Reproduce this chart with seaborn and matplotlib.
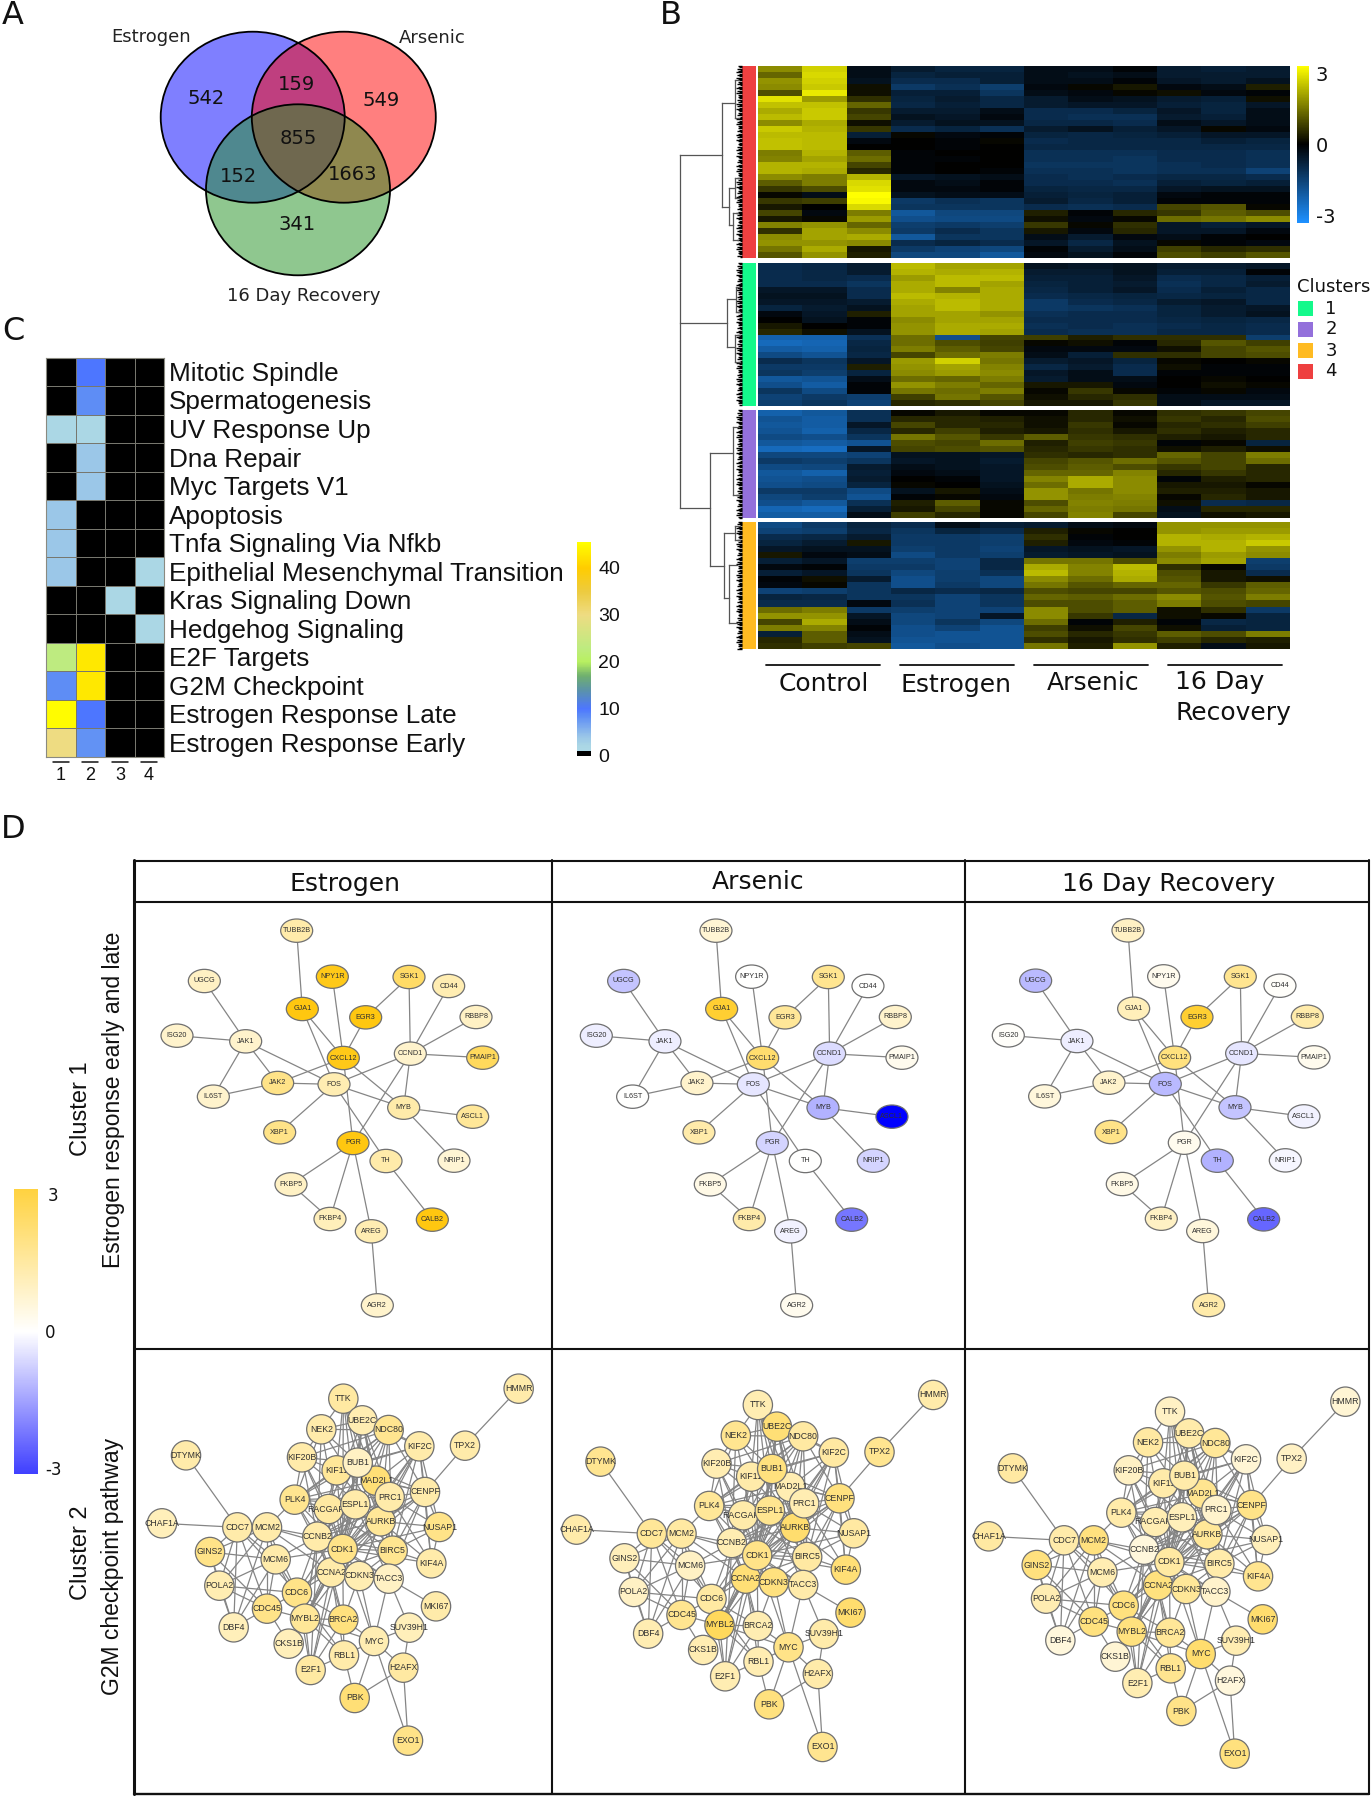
import numpy as np
import seaborn as sns
import matplotlib
matplotlib.use("Agg")
import matplotlib.pyplot as plt
from matplotlib.colors import LinearSegmentedColormap, Normalize
from matplotlib.cm import ScalarMappable
from matplotlib.patches import Ellipse, Rectangle

sns.set_theme(style="white")
plt.rcParams['font.family'] = ['DejaVu Sans']
W, H = 1372, 1800

# ---------- Panel A ----------
venn_names = ["Estrogen", "Arsenic", "16 Day Recovery"]
venn_counts = [542, 159, 549, 855, 152, 1663, 341]

# ---------- Panel B: heat map rows (Control x3, Estrogen x3, Arsenic x3, Recovery x3) ----------
cluster4 = [
 [1.8,2.7,-.3,-.6,-.8,-.8,-.3,-.3,-.1,-.6,-.7,-.6],
 [1.3,2.8,-.3,-.8,-.7,-.7,-.3,-.4,-.3,-.6,-.6,-.6],
 [1.9,2.7,-.4,-1.0,-1.0,-.7,-.3,-.3,-.1,-.5,-.6,-.4],
 [1.8,2.6,.2,-1.3,-1.1,-1.4,-.2,.1,.3,-.2,-.3,.4],
 [1.0,3.0,.2,-.7,-.7,-1.2,-.3,-.2,.1,.2,-.2,-.1],
 [2.9,2.0,.6,-.8,-.6,-.9,-.6,-.3,-.4,-.6,-.7,.2],
 [2.5,2.5,1.3,-.9,-.7,-.9,-.6,-.5,-.5,-.7,-.8,-.5],
 [2.2,2.6,.7,-.6,-.6,-.3,-1,-1,-.8,-.5,-.8,-.3],
 [2.4,2.6,.9,-.4,-.5,-.2,-1,-1.1,-1.1,-.6,-.7,-.3],
 [1.8,2.2,.2,-.6,-.4,-.4,-.9,-.9,-1.0,-.3,-.5,-.3],
 [2.6,2.3,.7,-1.0,-.8,-1.1,-.6,-.4,-.7,-.5,.1,-.2],
 [2.4,2.4,-.7,.1,-.2,-.1,-.8,-.9,-.8,-.7,-.5,-.5],
 [2.5,2.4,-.2,0,-.1,.1,-1,-.9,-.9,-.9,-.7,-.8],
 [2.5,2.4,0,0,-.1,0,-.9,-.9,-.9,-.9,-.9,-.9],
 [1.6,2.3,1.2,-.1,0,0,-1.1,-1.1,-1.1,-1,-1,-1.1],
 [1.7,2.1,1.4,-.1,-.1,0,-1.1,-1.1,-1.2,-1,-1,-1.1],
 [2.3,2.3,.9,-.1,0,0,-1.2,-1.2,-1.2,-1.1,-1,-1.1],
 [2.3,2.2,.5,-.1,0,-.1,-1.1,-1.1,-1.2,-1.1,-1.1,-1.5],
 [1.8,1.6,2.3,-.5,-.4,-.3,-1.0,-1.1,-1.0,-.9,-.9,-1],
 [1.2,1.6,2.8,-.2,-.3,-.1,-1,-1,-1.1,-.7,-.8,-.7],
 [.7,1.0,2.9,-.2,-.2,-.1,-.8,-.9,-.9,-.5,-.4,-.4],
 [.1,-.3,3.3,-.4,-.3,-.3,-.7,-.8,-.7,-.2,-.1,-.1],
 [.7,.8,3.2,-1.3,-1.1,-1.2,-.6,-.9,-.7,-.1,-.1,-.1],
 [.3,0,2.8,-1.2,-1.2,-1.2,-1.0,-1.1,-1.0,.9,1.1,.1],
 [.9,-.2,1.6,-2.0,-1.6,-1.6,.4,-.1,.5,.7,1.2,1.0],
 [.3,.1,2.0,-1.8,-1.7,-1.7,.2,-.2,.1,1.4,1.5,1.8],
 [1.7,1.9,1.3,-1.4,-1.3,-1.4,.7,.1,.6,-.5,-.7,-.5],
 [.6,2.1,1.8,-1.3,-1.0,-1.2,.3,-.2,.5,-.5,-.5,-.2],
 [1.8,2.1,2.2,-2.0,-1.2,-1.2,-.3,-.6,-.2,-.3,-.1,0],
 [1.9,1.9,1.8,-1.0,-.8,-1.0,-.5,-.9,-.4,.1,-.1,-.2],
 [1.5,2.2,.3,-1.3,-1.5,-1.6,-.1,-.6,-.3,.8,.5,.6],
 [1.1,1.9,.4,-1.6,-1.6,-2.0,-.2,-.4,-.1,1.0,.8,1.1],
]
cluster1 = [
 [-1,-.9,-.6,2.4,2.1,2.1,-.4,-.5,-.4,-.6,-.6,-.5],
 [-1,-.9,-.6,2.3,2.2,2.3,-.6,-.6,-.4,-.7,-.7,-.1],
 [-1,-.9,-1,2.0,2.4,2.4,-.7,-.7,-.5,-1,-.9,-.7],
 [-1,-1,-1.2,2.2,2.4,2.1,-.8,-.7,-.6,-1.1,-.9,-.6],
 [-.5,-.5,-1.0,2.2,1.7,2.2,-.9,-.7,-.5,-1,-.7,-.9],
 [-.4,-.4,-1.0,2.4,2.3,2.2,-1,-.9,-.8,-.9,-.8,-.9],
 [-.5,-.5,-.6,2.2,2.4,2.2,-1.3,-1.0,-.9,-.6,-.5,-.9],
 [-.8,-.6,-.4,2.1,2.4,2.2,-1.3,-1.2,-1.1,-.8,-.6,-.5],
 [-.2,-.5,.4,2.1,2.1,1.9,-1.1,-1.0,-1.0,-.8,-.6,-.4],
 [0,-.4,-.1,1.8,2.1,2.1,-1,-1,-1,-.9,-.8,-.9],
 [.3,0,-.1,1.9,2.2,2.2,-1.1,-1.0,-1.1,-1,-.9,-1],
 [.5,.2,-.4,1.9,2.2,2.1,-1,-1.1,-1.1,-.9,-.9,-1],
 [-2.2,-2.2,-1.1,1.4,-1.8,.9,.8,.4,.6,.6,.6,-1.4],
 [-2.4,-2.3,-.9,1.4,1.0,.8,.1,.2,-.1,.5,1.1,.8],
 [-2.1,-2.2,-.8,1.6,1.2,.9,-.2,-.2,-.2,.2,.9,1.1],
 [-1.7,-1.9,-.9,.9,1.4,1.6,-.3,-.7,.6,.6,.9,1.0],
 [-1.0,-1.2,-.5,2.0,2.7,1.5,-.6,-.5,-.8,.1,0,.1],
 [-1.3,-1.3,.4,1.9,2.1,1.7,-.9,-.6,-1,.2,-.1,-.1],
 [-1.2,-1.4,-.8,1.8,2.0,1.8,-.5,-.3,-1,-.1,-.1,-.1],
 [-2.0,-1.9,-.3,1.4,1.3,1.6,-.6,-.3,-.3,0,.1,0],
 [-1.8,-2.1,-.1,1.9,1.6,1.3,.3,.3,-.2,0,.2,.1],
 [-1.2,-1.7,-.1,1.5,1.4,1.6,.1,.7,.1,-.1,.1,-.2],
 [-1.5,-1.3,-1.4,.8,1.5,1.1,.2,.5,.6,-.3,-.3,-.3],
 [-1.4,-1.2,-1.5,.5,.6,.9,.3,.3,.7,-.3,-.5,-.5],
]
cluster2 = [
 [-2.2,-2.0,-1.1,.1,.3,.1,.1,.5,.1,.6,.7,.9],
 [-1.9,-2.1,-1.1,.5,.5,.4,.2,.5,.2,.7,.5,1.0],
 [-2.0,-2.1,-.5,.9,.5,.5,.2,.7,.1,.5,.6,.8],
 [-1.9,-2.2,-.9,.5,.8,.4,.3,.6,.3,.6,.4,.5],
 [-1.7,-1.8,-1.2,1.5,1.1,.7,1.2,.7,.6,.4,.3,.5],
 [-2.0,-2.1,-1.9,1.0,.9,1.4,.4,.8,.7,-.1,.1,-.8],
 [-2.4,-2.5,-.5,.9,1.0,1.1,.5,.7,.6,.2,.4,.2],
 [-1.6,-1.6,-1.5,-.4,-.4,-.5,.6,.5,.6,1.3,.9,1.6],
 [-1.3,-1.4,-1.2,-.5,-.4,-.6,.9,1.1,1.4,1.1,.9,1.4],
 [-1.7,-1.6,-.6,-.3,-.4,-.5,1.0,1.2,1.0,.7,.9,.5],
 [-2.0,-2.2,-.7,-.2,-.3,-.5,1.3,1.3,1.7,.5,.7,.5],
 [-1.9,-1.8,-.6,0,-.1,-.5,1.7,2.2,1.8,-.1,.4,.5],
 [-1.8,-1.7,-.8,.1,0,-.4,1.4,2.2,1.8,.3,.3,.1],
 [-1.3,-1.3,-1.7,-.4,.3,-.3,1.9,1.5,1.8,.4,.4,.3],
 [-1.6,-1.4,-1.9,-.1,.1,-.2,1.9,1.6,1.7,.1,.5,.3],
 [-1.8,-2.0,-1.1,.4,1.2,.1,1.0,1.7,1.6,.2,-1.0,-.9],
 [-2.3,-2.4,-.7,.3,.9,.1,1.3,1.6,1.5,-.3,.5,.5],
 [-2.1,-2.1,-.3,.8,.5,.1,.9,1.7,.9,-.4,.2,.3],
]
cluster3 = [
 [-1.7,-1.3,-.8,-1.0,-.3,-.7,-.6,-.3,-.2,1.9,1.9,1.9],
 [-1.5,-1.4,-.9,-1.2,-.8,-1.0,.4,.1,0,1.9,2.0,2.0],
 [-1,-.9,-.6,-1.3,-1.3,-1.4,.6,-.1,0,2.3,2.2,2.3],
 [-.8,-.6,.3,-1.3,-1.3,-1.4,.4,-.2,-.1,2.3,2.3,2.6],
 [-.5,-.4,-.4,-1.4,-1.3,-1.5,-.5,-.4,-.5,1.9,2.3,1.9],
 [.3,-.2,-.3,-1.7,-1.3,-1.4,-.6,-.5,-.4,1.6,2.0,1.8],
 [-.7,-.5,-1.4,-1.4,-1.5,-.9,1.5,1.5,1.0,1.8,2.1,-1.4],
 [-.2,-.1,-1.3,-1.3,-1.5,-.9,2.2,1.7,2.4,.6,.1,-1.3],
 [-.7,-.5,-1.2,-1.6,-1.4,-1.1,2.4,1.7,2.3,1.0,.3,-1.0],
 [-.1,.2,-.6,-1.8,-1.4,-1.6,1.8,1.4,2.2,1.1,.3,.2],
 [-.2,.1,-1.2,-1.8,-1.3,-1.6,1.5,1.1,1.3,1.3,.7,1.2],
 [-1.5,-1.4,-1.2,-.9,-1,-.9,1.0,.9,.9,1.1,1.0,1.3],
 [-.8,-.9,-1.2,-1.2,-1.5,-1.2,1.3,1.2,1.4,1.8,1.1,1.6],
 [-1.0,-1.0,-.2,-1.1,-1.5,-1.2,1.0,1.0,1.2,1.6,1.0,.9],
 [1.4,1.6,-1.3,-1.4,-1.5,-1.5,1.8,1.0,1.2,.2,.6,-1.3],
 [1.9,1.9,-.5,-1.6,-1.5,-.5,1.8,.7,-.9,.2,.1,-.8],
 [.9,2.2,-.3,-1.6,-1.2,-1.6,1.4,-.1,.4,-.1,-.9,-.8],
 [1.6,1.7,-.1,-1.8,-1.5,-1.9,.8,.2,.9,.2,-.7,-.8],
 [-.7,1.2,-.3,-1.8,-1.9,-1.9,1.0,.5,.7,1.2,1.0,1.6],
 [.5,1.2,-.4,-1.9,-1.9,-1.9,.6,.3,.6,.8,.5,.4],
 [.6,.8,.9,-2.0,-1.8,-1.9,1.5,.4,1.9,.4,-.3,.3],
]
group_labels = ["Control", "Estrogen", "Arsenic"]
cluster_ids = ["1", "2", "3", "4"]
cluster_colors = ["#14F98B", "#9370DB", "#FFBB22", "#EE4040"]

# ---------- Panel C ----------
pathways = ["Mitotic Spindle","Spermatogenesis","UV Response Up","Dna Repair","Myc Targets V1",
            "Apoptosis","Tnfa Signaling Via Nfkb","Epithelial Mesenchymal Transition",
            "Kras Signaling Down","Hedgehog Signaling","E2F Targets","G2M Checkpoint",
            "Estrogen Response Late","Estrogen Response Early"]
enrich = [[0,10,0,0],[0,8.5,0,0],[2,2,0,0],[0,4,0,0],[0,4,0,0],[4,0,0,0],[4,0,0,0],
          [4,0,0,2],[0,0,2,0],[0,0,0,2],[23,43,0,0],[8.5,43,0,0],[45,10,0,0],[30,8,0,0]]

# ---------- Panel D: networks ----------
net1_names = ["TUBB2B","NPY1R","SGK1","UGCG","CD44","GJA1","EGR3","RBBP8","ISG20","JAK1","CCND1",
              "CXCL12","PMAIP1","JAK2","FOS","IL6ST","MYB","ASCL1","XBP1","PGR","TH","NRIP1",
              "FKBP5","FKBP4","CALB2","AREG","AGR2"]
net1_x = [500,607,837,223,956,517,707,1038,141,347,841,640,1058,443,612,250,821,1028,449,669,768,972,483,600,907,724,742]
net1_y = [122,260,261,273,288,357,382,381,437,454,491,504,503,579,583,620,653,680,727,759,813,812,883,987,989,1024,1246]
net1_estrogen = [1.0,2.7,1.8,.7,.9,2.8,2.8,.7,.6,.6,.6,2.7,1.9,1.4,.9,.6,1.0,1.2,1.4,2.8,1.0,.5,.7,.8,2.8,.9,.6]
net1_arsenic = [.5,0,1.3,-.7,0,2.4,1.2,.6,-.2,-.2,-.4,1.7,.2,.6,-.3,0,-.9,-3,1.0,-.5,0,-.5,.3,1.0,-1.6,-.15,.2]
net1_recovery = [.7,.2,1.3,-.8,.05,.8,2.4,1.0,.05,-.2,-.3,1.5,.2,.6,-.8,.4,-.7,-.15,1.4,.2,-.9,-.1,.3,.7,-1.8,.4,1.0]
net1_edges = ["TUBB2B-GJA1","NPY1R-CXCL12","SGK1-EGR3","SGK1-CCND1","UGCG-JAK1","CD44-CCND1","GJA1-CXCL12",
              "GJA1-FOS","EGR3-CXCL12","RBBP8-CCND1","ISG20-JAK1","JAK1-IL6ST","JAK1-JAK2","JAK1-FOS",
              "CCND1-FOS","CCND1-PMAIP1","CCND1-MYB","CCND1-PGR","CXCL12-JAK2","CXCL12-MYB","CXCL12-PGR",
              "JAK2-FOS","JAK2-IL6ST","FOS-MYB","FOS-XBP1","FOS-TH","MYB-ASCL1","MYB-NRIP1","PGR-FKBP5",
              "PGR-FKBP4","PGR-AREG","FKBP5-FKBP4","TH-CALB2","AREG-AGR2"]

net2_names = ["TTK","HMMR","UBE2C","NEK2","NDC80","KIF2C","TPX2","DTYMK","KIF20B","KIF11","MAD2L1","BUB1",
              "CENPF","PLK4","RACGAP1","AURKB","ESPL1","PRC1","CDC7","CHAF1A","MCM2","NUSAP1","CCNB2",
              "CCNA2","CDK1","BIRC5","GINS2","MCM6","KIF4A","CDKN3","TACC3","POLA2","CDC6","MKI67","CDC45",
              "BRCA2","MYBL2","SUV39H1","DBF4","MYC","CKS1B","RBL1","H2AFX","E2F1","PBK","EXO1"]
net2_x = [640,1166,697,574,776,868,1005,168,516,620,738,683,885,494,596,752,676,779,322,96,411,928,562,
          604,638,788,240,437,904,688,776,268,501,918,411,640,525,838,311,732,476,642,820,542,674,834]
net2_y = [146,116,211,238,240,289,287,316,322,361,392,338,426,449,477,514,463,441,532,520,532,531,560,
          667,597,602,606,628,640,678,686,707,728,769,776,809,806,833,832,873,881,916,953,960,1044,1172]
net2_estrogen = [1.1,1.0,.9,1.0,1.3,1.0,1.0,1.0,1.0,1.2,1.6,.7,1.0,1.3,1.1,1.2,1.0,1.0,1.0,.8,1.0,1.4,1.0,
                 1.0,1.4,1.3,1.4,1.0,1.0,.9,.7,.9,1.4,1.0,1.4,1.5,1.2,.8,.8,.9,.8,1.0,1.1,1.1,1.6,1.4]
net2_arsenic = [.9,1.0,1.6,1.3,1.1,1.1,1.3,1.3,.9,1.0,.9,1.5,1.5,1.2,1.0,1.7,1.3,.9,1.2,1.0,1.1,1.1,.9,
                1.6,1.4,1.1,.8,.7,1.6,1.5,1.0,.7,1.1,1.7,1.3,.9,1.9,1.0,.9,1.4,.9,.9,1.0,.9,1.5,1.3]
net2_recovery = [.7,.5,1.0,1.1,1.2,.5,.7,1.1,.7,1.0,1.3,1.0,1.4,1.0,.9,1.2,.8,.6,1.0,1.1,1.5,.8,.4,
                 1.5,1.1,1.0,1.5,.9,1.3,1.2,.6,.9,1.5,1.7,1.5,1.2,1.5,.9,.4,1.7,.5,1.3,.4,.9,1.4,1.5]
net2_links = {
 "DTYMK":"CDC7","CHAF1A":"CDC7","HMMR":"TPX2","TPX2":"CENPF",
 "CDC7":"MCM2 GINS2 POLA2 DBF4 CDC45 MCM6 CDC6",
 "MCM2":"PLK4 MCM6 CCNB2 CDK1 POLA2 GINS2 DBF4 CDC45 CDC6 CCNA2",
 "GINS2":"MCM6 POLA2 DBF4 CDC45","POLA2":"DBF4 MCM6 CDC6 CDC45","DBF4":"CDC45 MCM6",
 "MCM6":"CDC45 CDC6 CCNB2 CDK1 MYBL2","CDC45":"CDC6 MYBL2 CKS1B",
 "CDC6":"CCNA2 CDK1 CCNB2 MYBL2 BRCA2 E2F1 RBL1",
 "MYBL2":"CCNA2 CDK1 CCNB2 E2F1 RBL1 BRCA2 MYC CKS1B","CKS1B":"CCNA2 CDK1",
 "E2F1":"CCNA2 CDK1 RBL1 BRCA2 CCNB2","RBL1":"CCNA2 BRCA2 MYC PBK","BRCA2":"MYC CCNA2 CDK1 CDKN3",
 "MYC":"CDKN3 TACC3 SUV39H1 H2AFX PBK EXO1 CDK1","H2AFX":"PBK EXO1 SUV39H1","SUV39H1":"TACC3","MKI67":"TACC3",
 "TTK":"NEK2 UBE2C BUB1 CDK1 ESPL1 KIF11 AURKB NDC80 MAD2L1",
 "NEK2":"UBE2C KIF20B BUB1 CDK1 NDC80 AURKB PLK4 CCNB2",
 "UBE2C":"NDC80 BUB1 CDK1 AURKB CCNB2 ESPL1 MAD2L1 PRC1 BIRC5 KIF2C",
 "NDC80":"KIF2C BUB1 KIF11 MAD2L1 CDK1 AURKB CENPF CCNB2 KIF20B BIRC5 PLK4",
 "KIF2C":"CENPF BUB1 AURKB PRC1 BIRC5 CDK1 CCNA2 KIF4A MAD2L1 KIF11 NUSAP1",
 "KIF20B":"PLK4 KIF11 BUB1 RACGAP1 AURKB CDK1 CCNB2",
 "BUB1":"KIF11 MAD2L1 PRC1 CENPF PLK4 ESPL1 AURKB CDK1 CCNB2 BIRC5 CCNA2",
 "KIF11":"PLK4 RACGAP1 AURKB CDK1 CCNB2 CENPF","MAD2L1":"PRC1 CENPF AURKB CDK1 CCNB2 CCNA2 PLK4",
 "PRC1":"CENPF NUSAP1 KIF4A BIRC5 CDK1 CCNB2 CDKN3 PLK4 TACC3",
 "CENPF":"NUSAP1 KIF4A BIRC5 AURKB CCNB2 CDK1 TACC3 CCNA2",
 "PLK4":"RACGAP1 CCNB2 CDK1 CCNA2 AURKB ESPL1","RACGAP1":"CCNB2 CDK1 AURKB BIRC5 CCNA2",
 "ESPL1":"CCNB2 CDK1 AURKB CCNA2 BIRC5 TACC3 CDC6 MYBL2",
 "AURKB":"CCNB2 CDK1 BIRC5 CCNA2 CDKN3 NUSAP1 KIF4A TACC3 CDC6 MYBL2",
 "NUSAP1":"BIRC5 CDK1 KIF4A","KIF4A":"BIRC5 CDK1","BIRC5":"CDK1 CCNB2 CCNA2 CDKN3 TACC3",
 "CCNB2":"CDK1 CCNA2 CDKN3 TACC3 BRCA2 MYBL2","CDK1":"CCNA2 CDKN3 TACC3","CCNA2":"CDKN3 TACC3 MYBL2",
}
net2_edges = [f"{a}-{b}" for a, bs in net2_links.items() for b in bs.split()]
condition_names = ["Estrogen", "Arsenic", "16 Day Recovery"]

# ---------- colour maps ----------
cm_b = LinearSegmentedColormap.from_list("by", ["#1E90FF", "#000000", "#FFFF00"])
cm_net = LinearSegmentedColormap.from_list("net", [(0, 0, 1), (1, 1, 1), (1, 195/255, 0)])
cm_netbar = LinearSegmentedColormap.from_list("netbar", [(64/255, 64/255, 1), (1, 1, 1), (1, 210/255, 64/255)])
c_max = 45.5
c_stops = [(0,"#000000"),(.9,"#000000"),(1.0,"#ADD8E6"),(2,"#ABD7E5"),(4,"#9AC6E8"),(8.5,"#5C8CF5"),(10,"#4D76FF"),
           (14,"#5B93A8"),(17,"#6FAF6F"),(20,"#B8F060"),(23,"#BEEB80"),(30,"#EEDC82"),(35,"#EDCB3F"),
           (40,"#FFCC00"),(45.5,"#FFFF00")]
cm_c = LinearSegmentedColormap.from_list("c", [(v/c_max, col) for v, col in c_stops])

fig = plt.figure(figsize=(W/100, H/100), dpi=100, facecolor="white")

def px_axes(x0, y0, x1, y1, **kw):
    return fig.add_axes([x0/W, 1-y1/H, (x1-x0)/W, (y1-y0)/H], **kw)

canvas = px_axes(0, 0, W, H)
canvas.set_xlim(0, W); canvas.set_ylim(H, 0); canvas.axis("off")
canvas.patch.set_alpha(0)

SANS = ["Liberation Sans", "DejaVu Sans"]
for s, x, y in [("A",13,16),("B",671,16),("C",13,331),("D",13,829)]:
    canvas.text(x, y, s, fontsize=23, ha="center", va="center", color="#111111")

# ---------- Panel A ----------
venn_geo = [(252.7,117.2,"#0000FF"),(343.8,117.2,"#FF0000"),(298,189.8,"#219121")]
for cx, cy, c in venn_geo:
    canvas.add_patch(Ellipse((cx,cy),184,171,fc=c,ec="none",alpha=.5))
for cx, cy, c in venn_geo:
    canvas.add_patch(Ellipse((cx,cy),184,171,fc="none",ec="black",lw=1.3))
for n, pos in zip(venn_counts, [(206,99),(297,84),(381,100),(298,139),(238,177),(353,175),(297,225)]):
    canvas.text(pos[0], pos[1], str(n), fontsize=14, ha="center", va="center", color="#111111")
for n, pos in zip(venn_names, [(151,37),(432,38),(304,296)]):
    canvas.text(pos[0], pos[1], n, fontsize=13, ha="center", va="center", color="#222222")

# ---------- Panel B ----------
block_y = [(66,258),(263,406),(410,518),(521.5,649)]
blocks = [cluster4, cluster1, cluster2, cluster3]
cax = px_axes(1297, 66, 1309, 222.5)
for i, (blk, (y0, y1)) in enumerate(zip(blocks, block_y)):
    a = px_axes(758, y0, 1290, y1)
    sns.heatmap(np.array(blk), ax=a, cmap=cm_b, vmin=-3.3, vmax=3.3,
                cbar=(i == 0), cbar_ax=cax if i == 0 else None,
                cbar_kws={"ticks":[-3,0,3]} if i == 0 else None,
                xticklabels=False, yticklabels=False)
cax.set_yticklabels(["-3","0","3"])
cax.tick_params(length=0, labelsize=14, pad=5, colors="#111111")

bar_colors = [cluster_colors[3], cluster_colors[0], cluster_colors[1], cluster_colors[2]]
for (y0, y1), c in zip(block_y, bar_colors):
    canvas.add_patch(Rectangle((742, y0), 13.5, y1-y0, fc=c, ec="none"))

# dendrogram: dense leaf tangle and branches
leaf_depth = [4,3,5,2,4,6,3,5,3,6,4,3]
for y0, y1 in block_y:
    ys = np.arange(y0, y1, 1.3)
    d = [leaf_depth[i % len(leaf_depth)] for i in range(len(ys))]
    canvas.hlines(ys, 742-np.array(d), 742, color="black", lw=1.0)
dendro_segments = [
    (680,155,680,507.7),(680,155,722,155),(680,323,727,323),(680,507.7,710,507.7),
    (710,453,710,566),(710,453,733,453),(710,566,724,566),
    (733,427,733,495),(733,427,739,427),(733,495,739,495),
    (724,533,724,598),(724,533,735,533),(724,598,729,598),
    (729,565,729,623),(729,565,737,565),(729,623,737,623),(735,526,735,540),(735,526,740,526),(735,540,740,540),
    (722,103,722,207),(722,103,734.5,103),(722,207,729,207),
    (734.5,80,734.5,118),(734.5,80,739,80),(734.5,118,739,118),
    (729,188,729,225),(729,188,735,188),(729,225,733,225),(735,178,735,198),(735,178,739,178),(735,198,739,198),
    (733,213,733,240),(733,213,738,213),(733,240,738,240),
    (727,299,727,347),(727,299,736,299),(727,347,735,347),(736,287,736,312),(736,287,740,287),(736,312,740,312),
    (735,335,735,362),(735,335,740,335),(735,362,740,362),
]
for x0, y0, x1, y1 in dendro_segments:
    canvas.plot([x0, x1], [y0, y1], color="#555555", lw=.9, solid_capstyle="projecting")

# group bars and labels
for lbl, (xa, xb), (tx, ty) in zip(group_labels, [(766,880),(900,1014),(1034,1148)], [(824,684),(956,685),(1093.5,683)]):
    canvas.plot([xa, xb], [665, 665], color="#111111", lw=1.3)
    canvas.text(tx, ty, lbl, fontsize=18, ha="center", va="center", color="#111111")
canvas.plot([1168, 1282], [665, 665], color="#111111", lw=1.3)
canvas.text(1175, 682, "16 Day", fontsize=18, ha="left", va="center", color="#111111")
canvas.text(1175, 713, "Recovery", fontsize=18, ha="left", va="center", color="#111111")

# legend
canvas.text(1297, 287, "Clusters", fontsize=13, ha="left", va="center", color="#111111")
for cid, c, y in zip(cluster_ids, cluster_colors, [301,322,343,364]):
    canvas.add_patch(Rectangle((1297.5, y), 15.5, 15, fc=c, ec="none"))
    canvas.text(1331, y+7.5, cid, fontsize=13, ha="center", va="center", color="#111111")

# ---------- Panel C ----------
ax_c = px_axes(46.3, 357.7, 164, 757)
cax_c = px_axes(577.4, 542, 591.3, 756)
sns.heatmap(np.array(enrich), ax=ax_c, cmap=cm_c, vmin=0, vmax=c_max, linewidths=.7, linecolor="#77776e",
            cbar_ax=cax_c, cbar_kws={"ticks":[0,10,20,30,40]}, xticklabels=False, yticklabels=False)
for sp in ax_c.spines.values():
    sp.set_visible(True); sp.set_color("#8a8a80"); sp.set_linewidth(.8)
cax_c.tick_params(length=0, labelsize=14, pad=5, colors="#111111")
for t in cax_c.get_yticklabels():
    t.set_family(SANS)
row_h = (757-357.7)/14
for i, name in enumerate(pathways):
    canvas.text(169, 357.7+row_h*(i+.5)+2, name, fontsize=18.8, family=SANS, ha="left", va="center", color="#111111")
for cid, x in zip(cluster_ids, [61,90,120,148.6]):
    canvas.plot([x-8, x+8], [762, 762], color="#111111", lw=1.1)
    canvas.text(x, 775, cid, fontsize=13, family=SANS, ha="center", va="center", color="#111111")

# ---------- Panel D ----------
for x0, y0, x1, y1, lw in [(134,860.5,1369,860.5,1.5),(134,901.5,1369,901.5,1.5),(134,1349,1369,1349,1.5),
                           (134,1794,1369,1794,1.7),(134,860,134,1794,2.2),(552,860,552,1794,1.5),
                           (965,860,965,1794,1.5),(1369,860,1369,1794,1.5)]:
    canvas.plot([x0, x1], [y0, y1], color="#111111", lw=lw, zorder=1)
for name, x, y in zip(condition_names, [345,758,1169], [884,882,884]):
    canvas.text(x, y, name, fontsize=18, ha="center", va="center", color="#111111")
for s, x, y, fs in [("Cluster 1",81,1109,17),("Estrogen response early and late",114,1100,16.5),
                    ("Cluster 2",81,1553,17),("G2M checkpoint pathway",113,1566,16.5)]:
    canvas.text(x, y, s, fontsize=fs, family=SANS, rotation=90, ha="center", va="center", color="#111111")

cbar_net = px_axes(14, 1189, 37.7, 1474)
cb = fig.colorbar(ScalarMappable(Normalize(-3, 3), cm_netbar), cax=cbar_net, ticks=[])
cb.outline.set_visible(False)
for s, x, y in [("3",52.7,1196),("0",50,1332.7),("-3",54,1470)]:
    canvas.text(x, y, s, fontsize=12, ha="center", va="center", color="#111111")

norm_net = Normalize(-3, 3)

def draw_net(ox, oy, names, xs, ys, vals, edges, w, h, font, fs):
    a = px_axes(ox, oy, ox+420, oy+450)
    a.set_xlim(0, 1260); a.set_ylim(1350, 0); a.axis("off"); a.patch.set_alpha(0)
    pos = {n: (x, y) for n, x, y in zip(names, xs, ys)}
    for e in edges:
        p, q = e.split("-")
        a.plot([pos[p][0], pos[q][0]], [pos[p][1], pos[q][1]], color="#858585", lw=.9, zorder=1)
    for i, (n, x, y, v) in enumerate(zip(names, xs, ys, vals)):
        z = 2 + i*.01
        a.add_patch(Ellipse((x, y), w, h, fc=cm_net(norm_net(v)), ec="#707070", lw=.9, zorder=z))
        a.text(x, y, n, fontsize=fs, family=font, ha="center", va="center", color="#303030", zorder=z+.001)

NARROW = ["Liberation Sans Narrow", "Liberation Sans"]
for (ox, oy), vals in zip([(130,890),(549.3,890),(961.3,889.7)], [net1_estrogen, net1_arsenic, net1_recovery]):
    draw_net(ox, oy, net1_names, net1_x, net1_y, vals, net1_edges, 96, 70, SANS, 5.2)
for (ox, oy), vals in zip([(130,1350),(544.5,1356.3),(956.7,1363)], [net2_estrogen, net2_arsenic, net2_recovery]):
    draw_net(ox, oy, net2_names, net2_x, net2_y, vals, net2_edges, 88, 88, NARROW, 6.3)

fig.savefig("out.png", dpi=100, facecolor="white")
